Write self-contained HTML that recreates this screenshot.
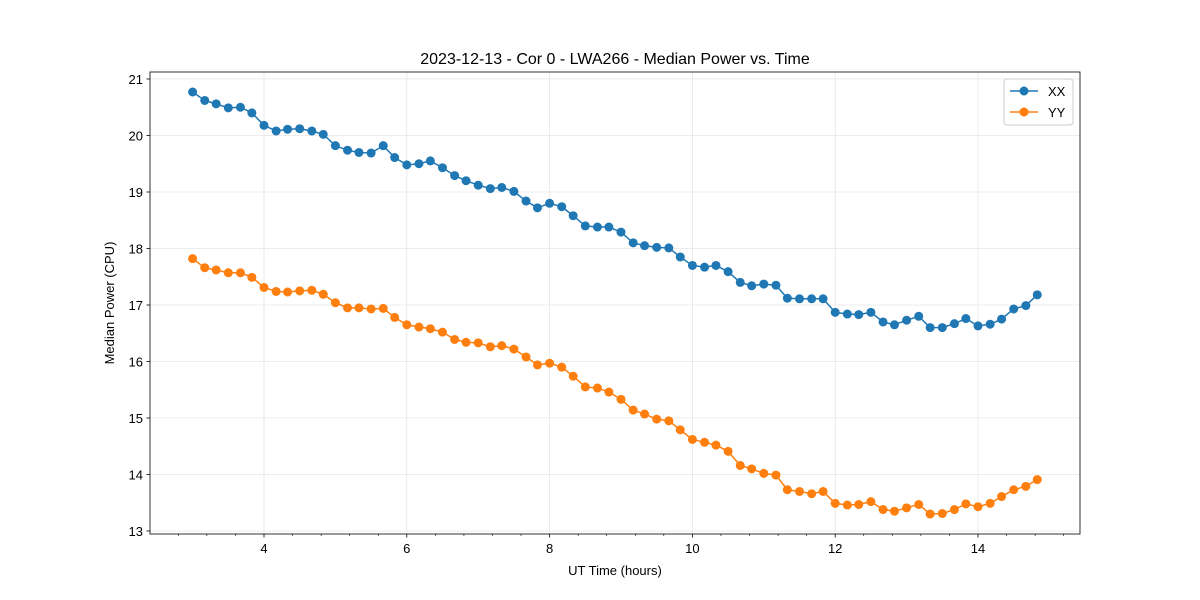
<!DOCTYPE html>
<html><head><meta charset="utf-8"><style>body{margin:0;background:#fff}svg{display:block;font-family:"Liberation Sans","DejaVu Sans",sans-serif}</style></head>
<body>
<svg id="chart" width="1200" height="600" xmlns="http://www.w3.org/2000/svg"></svg>
<script>
const times=[3.00,3.17,3.33,3.50,3.67,3.83,4.00,4.17,4.33,4.50,4.67,4.83,5.00,5.17,5.33,5.50,5.67,5.83,6.00,6.17,6.33,6.50,6.67,6.83,7.00,7.17,7.33,7.50,7.67,7.83,8.00,8.17,8.33,8.50,8.67,8.83,9.00,9.17,9.33,9.50,9.67,9.83,10.00,10.17,10.33,10.50,10.67,10.83,11.00,11.17,11.33,11.50,11.67,11.83,12.00,12.17,12.33,12.50,12.67,12.83,13.00,13.17,13.33,13.50,13.67,13.83,14.00,14.17,14.33,14.50,14.67,14.83];
const xx=[20.77,20.62,20.56,20.49,20.50,20.40,20.18,20.08,20.11,20.12,20.08,20.02,19.82,19.74,19.70,19.69,19.82,19.61,19.48,19.50,19.55,19.43,19.29,19.20,19.12,19.06,19.08,19.01,18.84,18.72,18.80,18.74,18.58,18.40,18.38,18.38,18.29,18.10,18.05,18.02,18.01,17.85,17.70,17.67,17.70,17.59,17.40,17.34,17.37,17.35,17.12,17.11,17.11,17.11,16.87,16.84,16.83,16.87,16.70,16.65,16.73,16.80,16.60,16.60,16.67,16.76,16.63,16.66,16.75,16.93,16.99,17.18];
const yy=[17.82,17.66,17.62,17.57,17.57,17.49,17.31,17.24,17.23,17.25,17.26,17.19,17.04,16.95,16.95,16.93,16.94,16.78,16.65,16.61,16.58,16.52,16.39,16.34,16.33,16.26,16.28,16.22,16.08,15.94,15.97,15.90,15.74,15.55,15.53,15.46,15.33,15.14,15.07,14.98,14.95,14.79,14.62,14.57,14.52,14.41,14.16,14.10,14.02,13.99,13.73,13.70,13.66,13.70,13.49,13.46,13.47,13.52,13.38,13.35,13.41,13.47,13.30,13.31,13.38,13.48,13.43,13.49,13.61,13.73,13.79,13.91];
const xTicks=[4,6,8,10,12,14];
const yTicks=[13,14,15,16,17,18,19,20,21];
const L=150,R=1080,T=72,B=534;
const X=v=>264+(v-4)*71.4;
const Y=v=>79+(21-v)*56.5;
const svg=document.getElementById('chart');
const NS='http://www.w3.org/2000/svg';
function mk(tag,attrs,txt){const e=document.createElementNS(NS,tag);for(const k in attrs)e.setAttribute(k,attrs[k]);if(txt!==undefined)e.textContent=txt;svg.appendChild(e);return e;}
// grid
xTicks.forEach(t=>{const g=mk('line',{x1:X(t),x2:X(t),y1:T,y2:B,stroke:'#e6e6e6','stroke-width':0.8});

});
yTicks.forEach(t=>{const g=mk('line',{x1:L,x2:R,y1:Y(t),y2:Y(t),stroke:'#e6e6e6','stroke-width':0.8});

});
// minor ticks
for(let m=2.8;m<15.45;m+=0.4){if(Math.abs(Math.round(m/2)*2-m)<0.01)continue;const t=mk('line',{x1:X(m),x2:X(m),y1:B,y2:B+2,stroke:'#000','stroke-width':0.6});

}
xTicks.forEach(t=>{mk('line',{x1:X(t),x2:X(t),y1:B,y2:B+3.5,stroke:'#000','stroke-width':0.8});
const l=mk('text',{x:X(t),y:B+19,'text-anchor':'middle','font-size':13},t);

});
yTicks.forEach(t=>{mk('line',{x1:L-3.5,x2:L,y1:Y(t),y2:Y(t),stroke:'#000','stroke-width':0.8});
const l=mk('text',{x:L-7,y:Y(t)+5,'text-anchor':'end','font-size':13},t);

});
function series(vals,color,name){
const p=mk('polyline',{points:vals.map((v,i)=>X(times[i])+','+Y(v)).join(' '),fill:'none',stroke:color,'stroke-width':1.5});


vals.forEach((v,i)=>{const c=mk('circle',{cx:X(times[i]),cy:Y(v),r:4.5,fill:color});

});}
series(xx,'#1f77b4','xx');
series(yy,'#ff7f0e','yy');
const f=mk('rect',{x:L,y:T,width:R-L,height:B-T,fill:'none',stroke:'#000','stroke-width':0.8});


const ti=mk('text',{x:615,y:64,'text-anchor':'middle','font-size':16},'2023-12-13 - Cor 0 - LWA266 - Median Power vs. Time');


const xl=mk('text',{x:615,y:575,'text-anchor':'middle','font-size':13},'UT Time (hours)');


const yl=mk('text',{x:114,y:303,'text-anchor':'middle','font-size':13,transform:'rotate(-90 114 303)'},'Median Power (CPU)');


const lg=mk('rect',{x:1004,y:79,width:69,height:46,rx:3,fill:'#fff',stroke:'#ccc','stroke-width':1});


[['XX','#1f77b4',91],['YY','#ff7f0e',112]].forEach(([n,c,y])=>{
mk('line',{x1:1010,x2:1038,y1:y,y2:y,stroke:c,'stroke-width':1.5});
mk('circle',{cx:1024,cy:y,r:4.5,fill:c});
const t=mk('text',{x:1048,y:y+5,'font-size':13},n);

});
</script>
</body></html>
